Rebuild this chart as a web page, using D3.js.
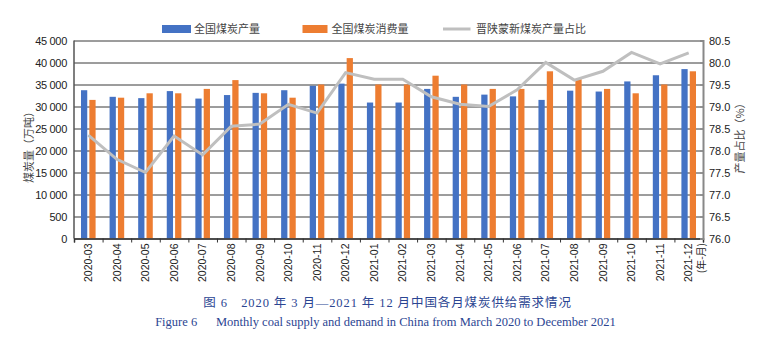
<!DOCTYPE html>
<html>
<head>
<meta charset="utf-8">
<script src="https://cdn.jsdelivr.net/npm/d3@7"></script>
<style>
  body { margin: 0; background: #fff; }
  text { font-family: "Liberation Sans", Arial, "Noto Sans CJK SC", sans-serif; }
  text.cap { font-family: "Liberation Serif", "Times New Roman", "Noto Sans CJK SC", serif; white-space: pre; }
</style>
</head>
<body>
<div id="chart"></div>
<script>
// months on the x axis
const months = ["2020-03","2020-04","2020-05","2020-06","2020-07","2020-08","2020-09","2020-10","2020-11","2020-12",
  "2021-01","2021-02","2021-03","2021-04","2021-05","2021-06","2021-07","2021-08","2021-09","2021-10","2021-11","2021-12"];
// national coal output (10k t)
const production = [33700,32200,31900,33500,31800,32600,33100,33700,34700,35200,
  30900,30900,34000,32200,32700,32300,31500,33600,33400,35700,37100,38500];
// national coal consumption (10k t)
const consumption = [31500,32000,33000,33000,34000,36000,33000,32000,35000,41000,
  35000,35000,37000,35000,34000,34000,38000,36200,34000,33000,35000,38000];
// share of Shanxi/Shaanxi/Inner Mongolia/Xinjiang output (%)
const share = [78.35,77.8,77.5,78.33,77.9,78.55,78.6,79.05,78.85,79.77,
  79.62,79.62,79.22,79.05,79.0,79.38,80.0,79.6,79.8,80.23,79.97,80.22];

const leftTicks = [0,5000,10000,15000,20000,25000,30000,35000,40000,45000];
const leftTickLabels = ["0","500","10 000","15 000","20 000","25 000","30 000","35 000","40 000","45 000"];
const rightTicks = [76.0,76.5,77.0,77.5,78.0,78.5,79.0,79.5,80.0,80.5];

const W = 770, H = 352;
const plot = {left: 74, right: 703, top: 40.5, bottom: 238.5};

const svg = d3.select("#chart").append("svg")
  .attr("width", W).attr("height", H);

const x = d3.scaleBand().domain(months).range([plot.left, plot.right]).padding(0);
const bw = x.bandwidth();
const x1 = d3.scaleBand().domain(["p","c"]).range([bw/2 - 7.3, bw/2 + 7.3]).paddingInner(0.25);
const y = d3.scaleLinear().domain([0, 45000]).range([plot.bottom, plot.top]);
const y2 = d3.scaleLinear().domain([76, 80.5]).range([plot.bottom, plot.top]);

// gridlines + left labels
const gl = svg.append("g")
  .attr("transform", `translate(${plot.left},0)`)
  .call(d3.axisLeft(y).tickValues(leftTicks)
    .tickFormat((d, i) => leftTickLabels[i])
    .tickSize(-(plot.right - plot.left)).tickPadding(7));
gl.select(".domain").remove();
gl.selectAll(".tick line").attr("stroke", "#3a3a3a").attr("stroke-width", 1);
gl.selectAll(".tick text").attr("fill", "#222").style("font-size", "11px").style("letter-spacing", "-0.3px");

// left axis line
svg.append("line")
  .attr("x1", plot.left).attr("x2", plot.left)
  .attr("y1", plot.top).attr("y2", plot.bottom)
  .attr("stroke", "#555").attr("stroke-width", 1.5);

// bars
const groups = svg.append("g").selectAll("g")
  .data(months)
  .join("g")
  .attr("transform", d => `translate(${x(d)},0)`);

groups.append("rect")
  .attr("x", x1("p"))
  .attr("width", x1.bandwidth())
  .attr("y", (d, i) => y(production[i]))
  .attr("height", (d, i) => y(0) - y(production[i]))
  .attr("fill", "#4472c4");

groups.append("rect")
  .attr("x", x1("c"))
  .attr("width", x1.bandwidth())
  .attr("y", (d, i) => y(consumption[i]))
  .attr("height", (d, i) => y(0) - y(consumption[i]))
  .attr("fill", "#ed7d31");

// share line
const line = d3.line()
  .x((d, i) => x(months[i]) + bw / 2)
  .y(d => y2(d));
svg.append("path")
  .datum(share)
  .attr("d", line)
  .attr("fill", "none")
  .attr("stroke", "#bfbfbf")
  .attr("stroke-width", 3)
  .attr("stroke-linejoin", "miter");

// bottom axis: tick marks at category edges
const xi = d3.scaleLinear().domain([0, months.length]).range([plot.left, plot.right]);
const xb = svg.append("g")
  .attr("transform", `translate(0,${plot.bottom})`)
  .call(d3.axisBottom(xi).tickValues(d3.range(0, months.length + 1)).tickFormat("").tickSize(4));
xb.select(".domain").attr("stroke", "#333").attr("stroke-width", 1.5);
xb.selectAll(".tick line").attr("stroke", "#333");

// month labels, rotated
const xl = svg.append("g")
  .attr("transform", `translate(0,${plot.bottom})`)
  .call(d3.axisBottom(x).tickSize(0).tickPadding(0));
xl.select(".domain").remove();
xl.selectAll(".tick text")
  .attr("transform", "rotate(-90)")
  .attr("x", -5).attr("y", 0).attr("dy", "0.35em")
  .attr("text-anchor", "end")
  .attr("fill", "#222")
  .style("font-size", "10.5px");

svg.append("text")
  .attr("transform", `translate(${plot.right - 2},243) rotate(-90)`)
  .attr("dy", "0.35em")
  .attr("text-anchor", "end")
  .attr("fill", "#222")
  .style("font-size", "10px")
  .style("font-family", "'Noto Sans CJK SC', sans-serif")
  .text("(年-月)");

// right axis
const ra = svg.append("g")
  .attr("transform", `translate(${plot.right},0)`)
  .call(d3.axisRight(y2).tickValues(rightTicks).tickFormat(d3.format(".1f")).tickSize(-3).tickPadding(6));
ra.select(".domain").attr("stroke", "#888").attr("stroke-width", 2);
ra.selectAll(".tick line").attr("stroke", "#888");
ra.selectAll(".tick text").attr("fill", "#222").style("font-size", "11px");

// axis titles
svg.append("text")
  .attr("transform", `translate(29,${(plot.top + plot.bottom) / 2 + 5}) rotate(-90)`)
  .attr("text-anchor", "middle")
  .attr("dy", "0.35em")
  .attr("fill", "#444")
  .style("font-size", "11px")
  .style("font-family", "'Noto Sans CJK SC', sans-serif")
  .text("煤炭量（万吨）");

svg.append("text")
  .attr("transform", `translate(740,${(plot.top + plot.bottom) / 2 - 4}) rotate(-90)`)
  .attr("text-anchor", "middle")
  .attr("dy", "0.35em")
  .attr("fill", "#444")
  .style("font-size", "11px")
  .style("font-family", "'Noto Sans CJK SC', sans-serif")
  .text("产量占比（%）");

// legend
const legend = svg.append("g");
const lfont = t => t.style("font-family", "'Noto Sans CJK SC', sans-serif").style("font-size", "11px").attr("fill", "#444");
legend.append("rect").attr("x", 162).attr("y", 25).attr("width", 29).attr("height", 8).attr("fill", "#4472c4");
legend.append("text").attr("x", 194).attr("y", 29).attr("dy", "0.35em").call(lfont).text("全国煤炭产量");
legend.append("rect").attr("x", 302.5).attr("y", 25).attr("width", 25).attr("height", 8).attr("fill", "#ed7d31");
legend.append("text").attr("x", 331.5).attr("y", 29).attr("dy", "0.35em").call(lfont).text("全国煤炭消费量");
legend.append("line").attr("x1", 443).attr("x2", 470.5).attr("y1", 29).attr("y2", 29)
  .attr("stroke", "#bfbfbf").attr("stroke-width", 3);
legend.append("text").attr("x", 476).attr("y", 29).attr("dy", "0.35em").call(lfont).text("晋陕蒙新煤炭产量占比");

// caption
svg.append("text")
  .attr("class", "cap")
  .attr("x", 387.5).attr("y", 307)
  .attr("text-anchor", "middle")
  .attr("fill", "#2b4592")
  .style("font-size", "12.5px")
  .style("letter-spacing", "0.9px")
  .text("图 6\u20032020 年 3 月—2021 年 12 月中国各月煤炭供给需求情况");
svg.append("text")
  .attr("class", "cap")
  .attr("x", 385.5).attr("y", 326)
  .attr("text-anchor", "middle")
  .attr("fill", "#2b4592")
  .style("font-size", "12.5px")
  .text("Figure 6\u2003\u2002Monthly coal supply and demand in China from March 2020 to December 2021");
</script>
</body>
</html>
